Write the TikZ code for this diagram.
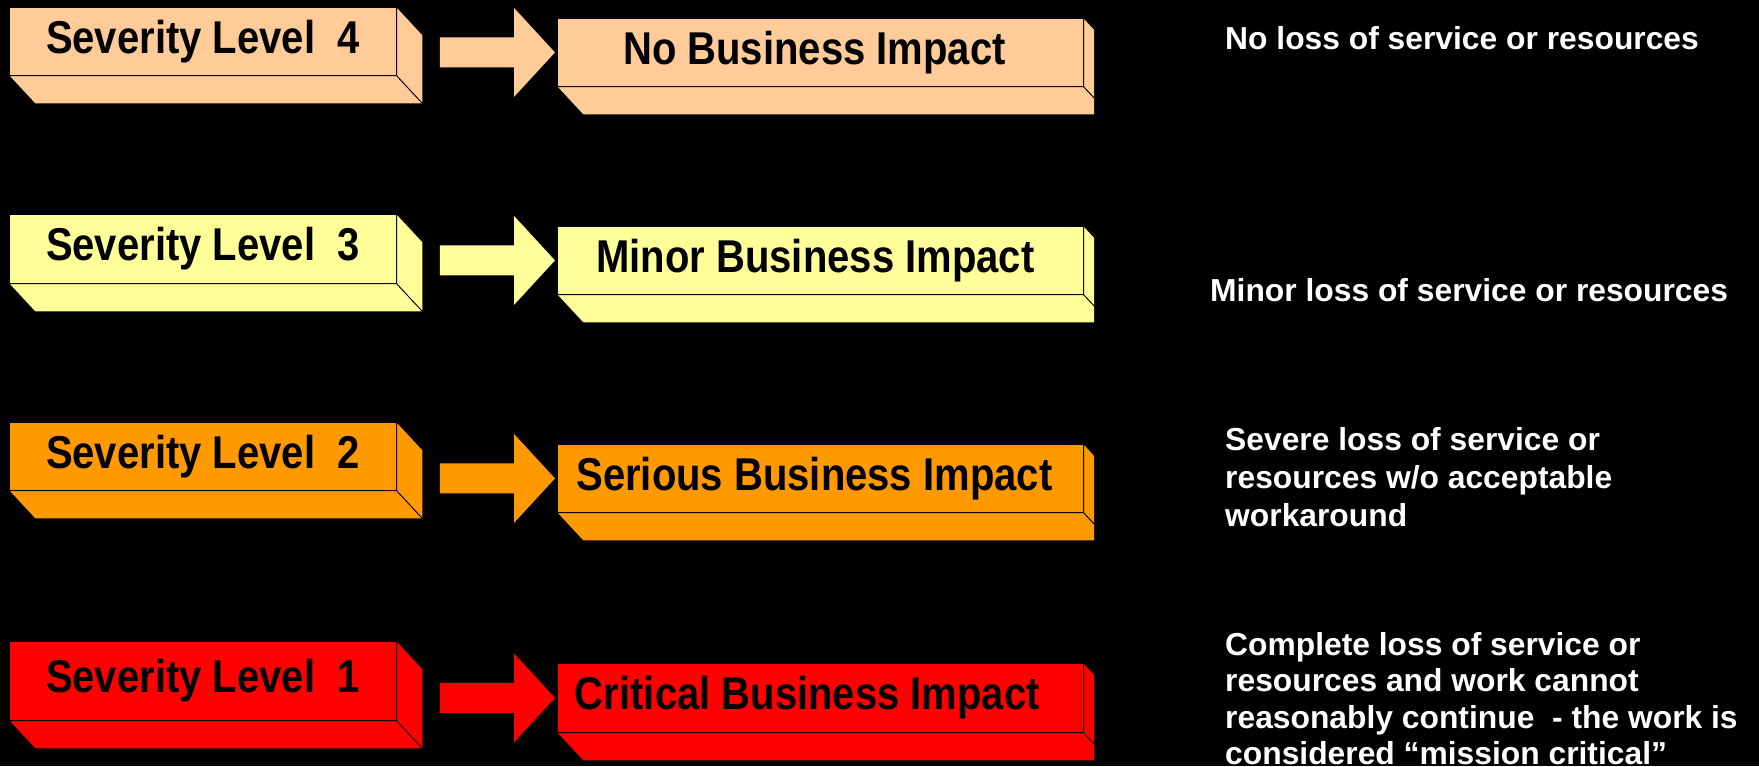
\documentclass[tikz,border=0pt]{standalone}
\usepackage{fontspec}
\setmainfont{Liberation Sans}
\newfontfamily\boxfont{Liberation Sans}[FakeStretch=0.87]
\usetikzlibrary{calc}
\definecolor{sevpeach}{HTML}{FFCC99}
\definecolor{sevyellow}{HTML}{FFFF99}
\definecolor{sevorange}{HTML}{FF9900}
\definecolor{sevred}{HTML}{FF0000}
\tikzset{
  face/.style={draw=black, line width=0.8pt},
  frontface/.style={face, rectangle, inner sep=0pt, anchor=north west, text=black,
    font=\boxfont\bfseries\fontsize{46}{50}\selectfont},
  lbox/.style={frontface, minimum width=387pt},
  rbox/.style={frontface, minimum width=526pt},
  desc/.style={anchor=north west, inner sep=0pt, align=left, text=white,
    font=\bfseries\fontsize{31.8}{37.5}\selectfont},
}
\newcommand\depthfaces[2]{%
  \filldraw[face, fill=#2] (#1.south west) -- (#1.south east) -- ++(26,28)
     -- ($(#1.south west)+(26,28)$) -- cycle;
  \filldraw[face, fill=#2] (#1.north east) -- ++(26,28)
     -- ($(#1.south east)+(26,28)$) -- (#1.south east) -- cycle;
}
\newcommand\blockarrow[3]{%
  \fill[#3] let \p1=(#1.east), \p2=(#2.west) in
    (\x1+43pt,\y2+15pt) -- (\x2-43pt,\y2+15pt) -- (\x2-43pt,\y2+44.5pt)
    -- (\x2-2pt,\y2) -- (\x2-43pt,\y2-44.5pt) -- (\x2-43pt,\y2-15pt)
    -- (\x1+43pt,\y2-15pt) -- cycle;
}
\begin{document}
\begin{tikzpicture}[x=1pt,y=-1pt]
\fill[black] (0,0) rectangle (1759,766);
\useasboundingbox (0,0) rectangle (1759,766);

% ---- left boxes
\node[lbox, fill=sevpeach,  minimum height=68pt] (L4) at (9,7)   {Severity Level\ \ 4};
\depthfaces{L4}{sevpeach}
\node[lbox, fill=sevyellow, minimum height=69pt] (L3) at (9,214) {Severity Level\ \ 3};
\depthfaces{L3}{sevyellow}
\node[lbox, fill=sevorange, minimum height=68pt] (L2) at (9,422) {Severity Level\ \ 2};
\depthfaces{L2}{sevorange}
\node[lbox, fill=sevred,    minimum height=79pt] (L1) at (9,641) {Severity Level\ \ 1};
\depthfaces{L1}{sevred}

% ---- right boxes (cut at the right)
\begin{scope}
\clip (0,0) rectangle (1094,766);
\node[rbox, fill=sevpeach,  minimum height=68pt] (R4) at (557,18)  {No Business Impact\kern12pt};
\depthfaces{R4}{sevpeach}
\node[rbox, fill=sevyellow, minimum height=68pt] (R3) at (557,226) {Minor Business Impact\kern10pt};
\depthfaces{R3}{sevyellow}
\node[rbox, fill=sevorange, minimum height=68pt] (R2) at (557,444) {Serious Business Impact\kern12pt};
\depthfaces{R2}{sevorange}
\node[rbox, fill=sevred,    minimum height=69pt] (R1) at (557,663) {Critical Business Impact\kern26pt};
\depthfaces{R1}{sevred}
\end{scope}

% ---- arrows
\blockarrow{L4}{R4}{sevpeach}
\blockarrow{L3}{R3}{sevyellow}
\blockarrow{L2}{R2}{sevorange}
\blockarrow{L1}{R1}{sevred}

% ---- descriptions
\node[desc] (D4) at (1225,26)  {No loss of service or resources};
\node[desc] (D3) at (1210,278) {Minor loss of service or resources};
\node[desc, font=\bfseries\fontsize{31.8}{38}\selectfont] (D2) at (1225,427)
  {Severe loss of service or\\resources w/o acceptable\\workaround};
\node[desc, font=\bfseries\fontsize{31.8}{36.5}\selectfont] (D1) at (1225,632)
  {Complete loss of service or\\resources and work cannot\\reasonably continue\ \ - the work is\\considered “mission critical”};
\end{tikzpicture}
\end{document}
